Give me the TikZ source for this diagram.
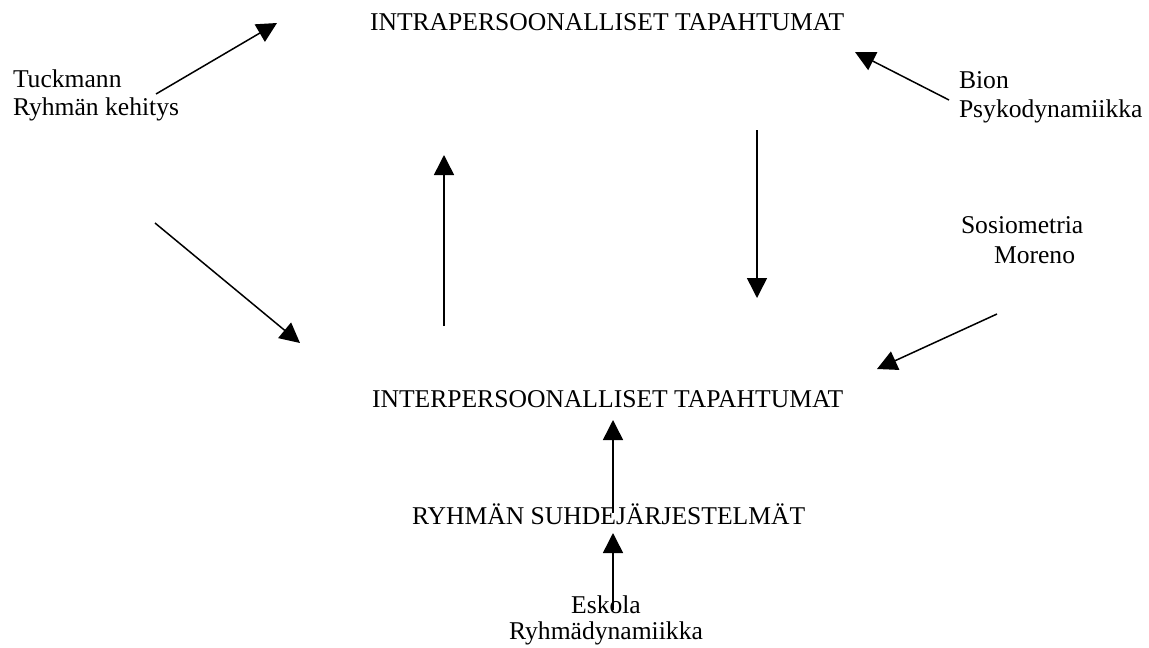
\documentclass[tikz,border=0pt]{standalone}
\usepackage{fontspec}
\setmainfont{Liberation Serif}
\usetikzlibrary{arrows.meta}
\begin{document}
\begin{tikzpicture}[x=1pt,y=-1pt,
  lbl/.style={inner sep=0pt,outer sep=0pt,font=\fontsize{25.6}{29}\selectfont},
  conn/.style={line width=1.5pt,-{Triangle[length=20pt,width=20pt]}}]
\useasboundingbox (0,0) rectangle (1149,648);
% texts
\node[lbl,anchor=base west] (intra) at (370,30) {INTRAPERSOONALLISET TAPAHTUMAT};
\node[lbl,anchor=base west] (inter) at (372,407) {INTERPERSOONALLISET TAPAHTUMAT};
\node[lbl,anchor=base west] (ryhma) at (412,524) {RYHMÄN SUHDEJÄRJESTELMÄT};
\node[lbl,anchor=base west] (tuck1) at (13,87) {Tuckmann};
\node[lbl,anchor=base west] (tuck2) at (13,115) {Ryhmän kehitys};
\node[lbl,anchor=base west] (bion1) at (959,88) {Bion};
\node[lbl,anchor=base west] (bion2) at (959,117) {Psykodynamiikka};
\node[lbl,anchor=base west] (sos1) at (961,233) {Sosiometria};
\node[lbl,anchor=base west] (sos2) at (994,263) {Moreno};
\node[lbl,anchor=base] (esk1) at (606,613) {Eskola};
\node[lbl,anchor=base] (esk2) at (606,639) {Ryhmädynamiikka};
% connector ends
\coordinate (a1s) at (156,94);  \coordinate (a1e) at (277,23);
\coordinate (a2s) at (155,223); \coordinate (a2e) at (300,343);
\coordinate (a3s) at (444,326); \coordinate (a3e) at (444,155);
\coordinate (a4s) at (757,130); \coordinate (a4e) at (757,298);
\coordinate (a5s) at (949,100); \coordinate (a5e) at (855,52);
\coordinate (a6s) at (997,314); \coordinate (a6e) at (877,369);
\coordinate (a7s) at (613,513); \coordinate (a7e) at (613,420);
\coordinate (a8s) at (613,610); \coordinate (a8e) at (613,533);
% connectors
\draw[conn] (a1s) -- (a1e);
\draw[conn] (a2s) -- (a2e);
\draw[conn] (a3s) -- (a3e);
\draw[conn] (a4s) -- (a4e);
\draw[conn] (a5s) -- (a5e);
\draw[conn] (a6s) -- (a6e);
\draw[conn] (a7s) -- (a7e);
\draw[conn] (a8s) -- (a8e);
\end{tikzpicture}
\end{document}
